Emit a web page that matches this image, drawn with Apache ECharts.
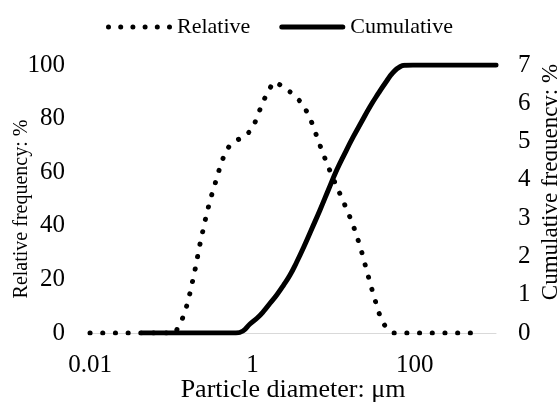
<!DOCTYPE html>
<html>
<head>
<meta charset="utf-8">
<script src="https://cdn.jsdelivr.net/npm/echarts@6/dist/echarts.min.js"></script>
<style>html,body{margin:0;padding:0;background:#fff}#c{width:557px;height:403px}</style>
</head>
<body>
<div id="c"></div>
<script>
// Particle diameter (µm) and relative frequency (%) — dotted series (right axis)
const relX = [0.01, 0.1114, 0.1284, 0.1479, 0.1704, 0.1964, 0.2263, 0.2608, 0.3004, 0.3462, 0.399, 0.4598, 0.5298, 0.646, 0.7882, 1.0085, 1.3127, 1.5564, 1.845, 2.5204, 3.281, 4.2345, 5.42, 7.2578, 9.5566, 12.797, 16.995, 21.32, 25.78, 31.44, 37.26, 42.95, 53.88, 692];
const relY = [0, 0, 0.235, 0.535, 1.045, 1.645, 2.324, 2.925, 3.46, 3.891, 4.335, 4.709, 4.91, 5.04, 5.111, 5.346, 5.973, 6.32, 6.563, 6.417, 6.197, 5.973, 5.484, 4.735, 4.1, 3.5, 2.881, 2.254, 1.601, 0.948, 0.444, 0.183, 0, 0];
// Particle diameter (µm) and cumulative frequency (%) — solid series (left axis)
const cumX = [0.0434, 0.628, 0.765, 0.933, 1.129, 1.362, 1.648, 1.993, 2.402, 2.906, 3.514, 4.24, 5.377, 6.804, 8.61, 10.93, 13.81, 17.5, 22.19, 28.05, 35.54, 45.07, 53.95, 65.77, 77.98, 95.0, 1000];
const cumY = [0, 0, 0.75, 3.36, 5.41, 7.95, 11.08, 14.18, 17.72, 21.64, 26.49, 31.72, 38.81, 45.9, 53.36, 60.82, 67.16, 73.25, 78.92, 84.44, 89.37, 94.03, 97.2, 99.37, 99.9, 100, 100];
const xTickLabels = ['0.01', '1', '100'];
const seriesNames = ['Relative', 'Cumulative'];
const axisNames = ['Particle diameter: μm', 'Relative frequency: %', 'Cumulative frequency: %'];

const font = 'Liberation Serif';
const relData = relX.map((x, i) => [x, relY[i]]);
const cumData = cumX.map((x, i) => [x, cumY[i]]);

// legend icons: a row of round dots, and a thick rounded bar
let dots = '';
for (let k = 0; k < 6; k++) {
  const cx = 2.5 + k * 12.2;
  dots += 'M' + (cx - 2.5) + ',2.5 A2.5,2.5 0 1,0 ' + (cx + 2.5) + ',2.5 A2.5,2.5 0 1,0 ' + (cx - 2.5) + ',2.5 Z ';
}
const dotIcon = 'path://' + dots;
const barIcon = 'path://M2.5,0 L63.5,0 A2.5,2.5 0 0,1 63.5,5 L2.5,5 A2.5,2.5 0 0,1 2.5,0 Z';

const chart = echarts.init(document.getElementById('c'), null, {renderer: 'canvas'});
chart.setOption({
  animation: false,
  backgroundColor: '#fff',
  grid: {left: 90, right: 61, top: 65, bottom: 70, containLabel: false, outerBoundsMode: 'none'},
  legend: {
    left: 101, top: 11,
    itemWidth: 66, itemHeight: 5, itemGap: 29,
    textStyle: {fontFamily: font, fontSize: 22, color: '#000'},
    data: [{name: seriesNames[0], icon: dotIcon}, {name: seriesNames[1], icon: barIcon}]
  },
  xAxis: {
    type: 'log', logBase: 10, min: 0.01, max: 1000,
    name: axisNames[0], nameLocation: 'middle', nameGap: 44, nameMoveOverlap: false,
    nameTextStyle: {fontFamily: font, fontSize: 26, color: '#000'},
    axisLine: {show: true, lineStyle: {color: '#d9d9d9', width: 1}},
    axisTick: {show: false},
    splitLine: {show: false},
    minorTick: {show: false},
    axisLabel: {
      fontFamily: font, fontSize: 25, color: '#000', margin: 20,
      formatter: function (v) {
        const e = Math.round(Math.log10(v));
        const s = e === -2 ? '0.01' : e === 0 ? '1' : e === 2 ? '100' : '';
        return xTickLabels.indexOf(s) >= 0 ? s : '';
      }
    }
  },
  yAxis: [
    {
      type: 'value', min: 0, max: 100, interval: 20, position: 'left',
      name: axisNames[1], nameLocation: 'middle', nameGap: 58, nameRotate: 90, nameMoveOverlap: false,
      nameTextStyle: {fontFamily: font, fontSize: 20, color: '#000', padding: [0, 20, 0, 0]},
      axisLine: {show: false}, axisTick: {show: false}, splitLine: {show: false},
      axisLabel: {fontFamily: font, fontSize: 25, color: '#000', margin: 25}
    },
    {
      type: 'value', min: 0, max: 7, interval: 1, position: 'right',
      name: axisNames[2], nameLocation: 'middle', nameGap: 43, nameRotate: 90, nameMoveOverlap: false,
      nameTextStyle: {fontFamily: font, fontSize: 23, color: '#000', padding: [0, 0, 0, 34]},
      axisLine: {show: false}, axisTick: {show: false}, splitLine: {show: false},
      axisLabel: {fontFamily: font, fontSize: 25, color: '#000', margin: 22}
    }
  ],
  series: [
    {
      name: seriesNames[0], type: 'line', yAxisIndex: 1, data: relData,
      symbol: 'none', smooth: false,
      lineStyle: {color: '#000', width: 5, type: [0.1, 12.6], cap: 'round'},
      itemStyle: {color: '#000'}
    },
    {
      name: seriesNames[1], type: 'line', yAxisIndex: 0, data: cumData,
      symbol: 'none', smooth: true,
      lineStyle: {color: '#000', width: 5, cap: 'round'},
      itemStyle: {color: '#000'}
    }
  ]
});
</script>
</body>
</html>
